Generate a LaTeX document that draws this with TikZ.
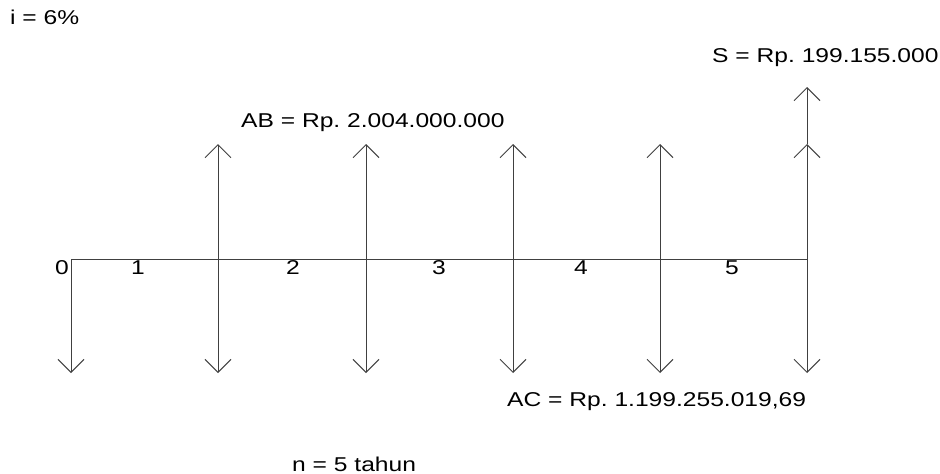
\documentclass[tikz,border=0pt]{standalone}
\usepackage{fontspec}
\setmainfont{Liberation Sans}[FakeStretch=1.23]
\usetikzlibrary{arrows.meta}
\frenchspacing

\begin{document}
\begin{tikzpicture}[
			x=1pt, y=-1pt,
			every node/.style={
				inner sep=0pt,
				text=black,
				font=\fontsize{20}{24}\selectfont
			},
			axis/.style={draw=black!75, line width=1pt},
			flow/.style={draw=black!75, line width=1pt, -{Straight Barb[length=13pt, width=26pt, line width=1pt]}},
			period/.style={anchor=base}, % numbers under the axis
			amount/.style={anchor=base west}
			]
			\useasboundingbox (0,0) rectangle (940,474);
			
			% -------- Time axis --------
			\coordinate (t0) at (71,259);
			\coordinate (t1) at (218,259);
			\coordinate (t2) at (366,259);
			\coordinate (t3) at (513,259);
			\coordinate (t4) at (660,259);
			\coordinate (t5) at (807,259);
			
			\draw[axis] (t0) -- (t5);
			
			\node[period] (p0) at (62,274) {0};
			\node[period] (p1) at (138,274) {1};
			\node[period] (p2) at (293,274) {2};
			\node[period] (p3) at (439,274) {3};
			\node[period] (p4) at (581,274) {4};
			\node[period] (p5) at (732,274) {5};
			
			% -------- Receipts (up) --------
			\coordinate (u1) at (218,144);
			\coordinate (u2) at (366,144);
			\coordinate (u3) at (513,144);
			\coordinate (u4) at (660,144);
			\coordinate (u5) at (807,144);
			\coordinate (s5) at (807,87);
			
			\draw[flow] (t1) -- (u1);
			\draw[flow] (t2) -- (u2);
			\draw[flow] (t3) -- (u3);
			\draw[flow] (t4) -- (u4);
			\draw[flow] (t5) -- (u5);
			\draw[flow] (u5) -- (s5);
			
			% -------- Costs (down) --------
			\coordinate (d0) at (71,373);
			\coordinate (d1) at (218,373);
			\coordinate (d2) at (366,373);
			\coordinate (d3) at (513,373);
			\coordinate (d4) at (660,373);
			\coordinate (d5) at (807,373);
			
			\draw[flow] (t0) -- (d0);
			\draw[flow] (t1) -- (d1);
			\draw[flow] (t2) -- (d2);
			\draw[flow] (t3) -- (d3);
			\draw[flow] (t4) -- (d4);
			\draw[flow] (t5) -- (d5);
			
			% -------- Labels --------
			\node[amount] (rate) at (10,24) {i = 6\%};
			\node[amount] (salvage) at (712,62) {S = Rp. 199.155.000};
			\node[amount] (benefit) at (241,127) {AB = Rp. 2.004.000.000};
			\node[amount] (cost) at (507,406) {AC = Rp. 1.199.255.019,69};
			\node[amount] (years) at (292,471) {n = 5 tahun};
			
\end{tikzpicture}
\end{document}
